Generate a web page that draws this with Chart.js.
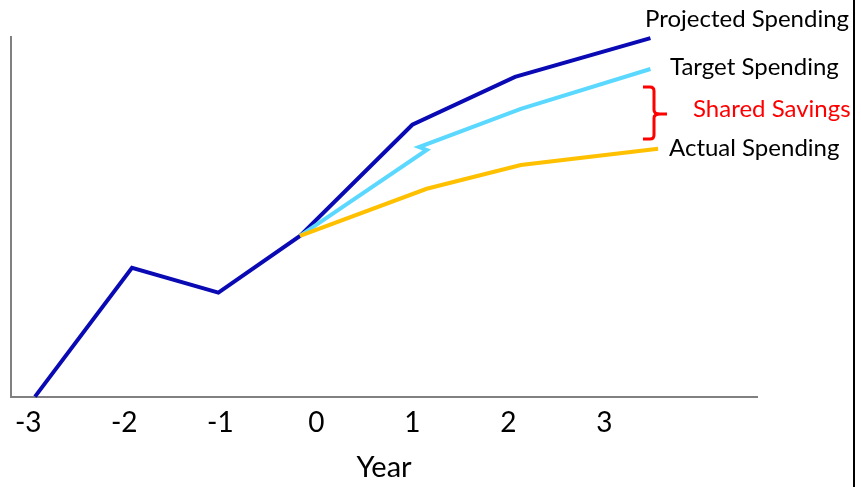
<!DOCTYPE html>
<html>
<head>
<meta charset="utf-8">
<script src="https://cdn.jsdelivr.net/npm/chart.js@4/dist/chart.umd.min.js"></script>
<style>
  html, body { margin: 0; padding: 0; background: #fff; }
  #wrap { width: 861px; height: 487px; }
</style>
</head>
<body>
<div id="wrap"><canvas id="grafico" width="861" height="487"></canvas></div>
<script>
// Eje X: años
const years = [-3, -2, -1, 0, 1, 2, 3];
const tickLabels = ['-3', '-2', '-1', '0', '1', '2', '3'];

// Series (unidades arbitrarias 0-100)
const projectedX = [-2.93, -1.92, -1.02, -0.17, 1.0, 2.07, 3.48];
const projectedY = [0, 35.8, 28.9, 44.7, 75.6, 88.9, 99.7];
const targetX = [-0.17, 1.15, 1.07, 2.13, 3.48];
const targetY = [44.7, 68.6, 69.4, 80, 91.1];
const actualX = [-0.17, 1.15, 2.13, 3.56];
const actualY = [44.7, 57.8, 64.4, 68.9];

// Etiquetas a la derecha
const labels = ['Projected Spending', 'Target Spending', 'Shared Savings', 'Actual Spending'];

const FONT = 'Lato, "Open Sans", sans-serif';

function puntos(xs, ys) {
  return xs.map((x, i) => ({ x: x, y: ys[i] }));
}

// Plugin para textos, llave roja y borde derecho
const anotaciones = {
  id: 'anotaciones',
  afterDraw(chart) {
    const ctx = chart.ctx;
    ctx.save();
    ctx.font = '24px ' + FONT;
    ctx.textBaseline = 'alphabetic';
    ctx.textAlign = 'left';
    ctx.fillStyle = '#000';
    ctx.fillText(labels[0], 645, 27);
    ctx.fillText(labels[1], 670, 75);
    ctx.fillText(labels[3], 669, 156);
    ctx.fillStyle = '#ff0000';
    ctx.fillText(labels[2], 693, 117);

    // llave
    ctx.strokeStyle = '#ff0000';
    ctx.lineWidth = 3;
    ctx.beginPath();
    ctx.moveTo(643, 87);
    ctx.lineTo(650, 87);
    ctx.quadraticCurveTo(654, 87, 654, 91);
    ctx.lineTo(654, 110);
    ctx.quadraticCurveTo(654, 114, 660, 114);
    ctx.lineTo(667, 114);
    ctx.moveTo(660, 114);
    ctx.quadraticCurveTo(654, 114, 654, 118);
    ctx.lineTo(654, 135);
    ctx.quadraticCurveTo(654, 139, 650, 139);
    ctx.lineTo(643, 139);
    ctx.stroke();

    // borde derecho
    ctx.strokeStyle = '#000';
    ctx.lineWidth = 2;
    ctx.beginPath();
    ctx.moveTo(854, 0);
    ctx.lineTo(854, 487);
    ctx.stroke();
    ctx.restore();
  }
};

const ctx = document.getElementById('grafico').getContext('2d');
new Chart(ctx, {
  type: 'line',
  data: {
    datasets: [
      {
        label: 'Projected Spending',
        data: puntos(projectedX, projectedY),
        borderColor: '#0a0ab4',
        borderWidth: 4,
        pointRadius: 0,
        tension: 0,
        clip: false,
        order: 3
      },
      {
        label: 'Target Spending',
        data: puntos(targetX, targetY),
        borderColor: '#5bd8ff',
        borderWidth: 4,
        pointRadius: 0,
        tension: 0,
        clip: false,
        order: 2
      },
      {
        label: 'Actual Spending',
        data: puntos(actualX, actualY),
        borderColor: '#ffc000',
        borderWidth: 4,
        pointRadius: 0,
        tension: 0,
        clip: false,
        order: 1
      }
    ]
  },
  options: {
    responsive: false,
    animation: false,
    layout: { padding: { left: 11, top: 37, right: 104, bottom: 2 } },
    plugins: { legend: { display: false }, tooltip: { enabled: false } },
    scales: {
      x: {
        type: 'linear',
        min: -3.18,
        max: 4.59,
        afterBuildTicks(scale) {
          scale.ticks = years.map(v => ({ value: v }));
        },
        ticks: {
          autoSkip: false,
          maxRotation: 0,
          padding: 10,
          color: '#000',
          font: { family: FONT, size: 28 },
          callback: (v, i) => tickLabels[i]
        },
        grid: { display: false, drawTicks: false },
        border: { display: true, color: '#808080', width: 2 },
        title: {
          display: true,
          text: 'Year',
          color: '#000',
          font: { family: FONT, size: 29 },
          padding: { top: 0, bottom: 0 }
        }
      },
      y: {
        type: 'linear',
        min: 0,
        max: 100,
        ticks: { display: false },
        grid: { display: false, drawTicks: false },
        border: { display: true, color: '#808080', width: 2 }
      }
    }
  },
  plugins: [anotaciones]
});
</script>
</body>
</html>
